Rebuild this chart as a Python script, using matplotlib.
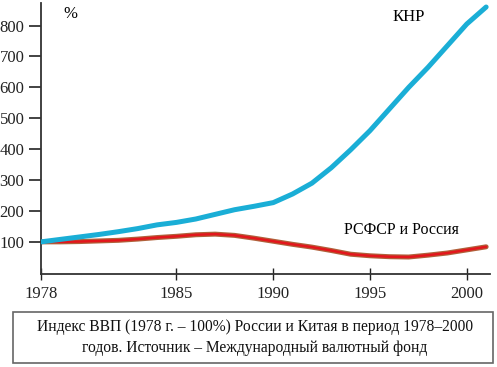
import matplotlib
matplotlib.use('Agg')
import matplotlib.pyplot as plt
from matplotlib.patches import Rectangle

plt.rcParams['font.family'] = ['Liberation Serif', 'DejaVu Serif']

# данные (индекс ВВП, 1978 = 100%)
years = [1978, 1979, 1980, 1981, 1982, 1983, 1984, 1985, 1986, 1987, 1988, 1989,
         1990, 1991, 1992, 1993, 1994, 1995, 1996, 1997, 1998, 1999, 2000, 2001]
china = [100, 108, 116, 124, 133, 143, 155, 163, 174, 189, 204, 215,
         227, 255, 290, 340, 398, 460, 530, 600, 665, 735, 805, 860]
russia = [100, 100, 101, 103, 105, 109, 114, 118, 123, 125, 121, 112,
          102, 92, 83, 72, 60, 55, 52, 51, 57, 64, 74, 84]
x_ticks = [1978, 1985, 1990, 1995, 2000]
y_ticks = [100, 200, 300, 400, 500, 600, 700, 800]
caption = ('Индекс ВВП (1978 г. – 100%) России и Китая в период 1978–2000\n'
           'годов. Источник – Международный валютный фонд')

W, H = 497, 367
fig = plt.figure(figsize=(W / 100, H / 100), dpi=100)
ax = fig.add_axes([41 / W, 1 - 274 / H, (490 - 41) / W, (274 - 3) / H])

ax.plot(years, china, color='#1aaed6', lw=3.6, solid_capstyle='round', zorder=3)
ax.plot(years, russia, color='#b0603a', lw=3.6, solid_capstyle='round', zorder=2)
ax.plot(years, russia, color='#e3161c', lw=1.8, solid_capstyle='round', zorder=2)

ax.set_xlim(1978, 2001.2)
ax.set_ylim(-4, 873)
ax.set_xticks(x_ticks)
ax.set_yticks(y_ticks)

for s in ['top', 'right']:
    ax.spines[s].set_visible(False)
for s in ['left', 'bottom']:
    ax.spines[s].set_color('#333333')
    ax.spines[s].set_linewidth(1.3)

ax.tick_params(axis='y', length=9, width=1.2, pad=3, labelsize=12, colors='#222222')
ax.tick_params(axis='x', direction='inout', length=9, width=1, pad=4,
               labelsize=12, colors='#222222')

ax.text(0.065, 0.96, '%', transform=ax.transAxes, fontsize=12, ha='center', va='center')
ax.text(1997, 828, 'КНР', fontsize=12, ha='center', va='center')
ax.text(1996.6, 140, 'РСФСР и Россия', fontsize=11.5, ha='center', va='center')

# подпись в рамке
fig.patches.append(Rectangle((13 / W, 1 - 363 / H), (493 - 13) / W, (363 - 312) / H,
                             transform=fig.transFigure, fill=False,
                             edgecolor='#666666', lw=1.2))
fig.text(255 / W, 1 - 337.5 / H, caption, ha='center', va='center',
         fontsize=11.2, linespacing=1.4, color='#111111')

fig.savefig('out.png', dpi=100)
